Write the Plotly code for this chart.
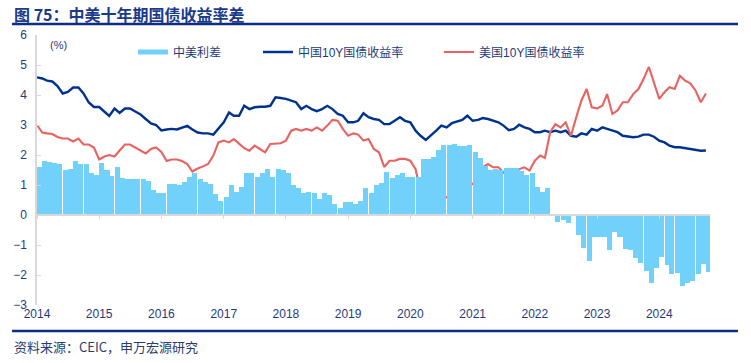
import pandas as pd
import plotly.graph_objects as go

months = pd.date_range("2014-01-01", "2024-10-01", freq="MS")

china_10y = [
    4.59, 4.55, 4.48, 4.45, 4.30, 4.05, 4.10, 4.25, 4.25, 4.05, 3.75, 3.60,
    3.60, 3.45, 3.30, 3.55, 3.40, 3.55, 3.55, 3.45, 3.35, 3.20, 3.05, 3.00,
    2.82, 2.85, 2.87, 2.85, 2.90, 2.97, 2.85, 2.75, 2.72, 2.72, 2.68, 2.90,
    3.09, 3.42, 3.31, 3.31, 3.64, 3.53, 3.59, 3.61, 3.61, 3.64, 3.92, 3.90,
    3.87, 3.81, 3.76, 3.53, 3.64, 3.53, 3.46, 3.53, 3.64, 3.53, 3.37, 3.31,
    3.09, 3.09, 3.14, 3.39, 3.26, 3.20, 3.17, 3.03, 3.03, 3.14, 3.26, 3.14,
    3.09, 2.81, 2.64, 2.50, 2.64, 2.81, 2.98, 2.92, 3.06, 3.12, 3.17, 3.31,
    3.14, 3.17, 3.23, 3.20, 3.14, 3.09, 2.98, 2.83, 2.87, 3.01, 2.92, 2.87,
    2.76, 2.76, 2.81, 2.76, 2.81, 2.76, 2.81, 2.64, 2.61, 2.72, 2.68, 2.87,
    2.81, 2.92, 2.87, 2.81, 2.76, 2.64, 2.61, 2.59, 2.61, 2.68, 2.68, 2.61,
    2.48, 2.42, 2.31, 2.26, 2.26, 2.23, 2.20, 2.17, 2.14, 2.15,
]

us_10y = [
    3.00, 2.75, 2.72, 2.70, 2.60, 2.55, 2.55, 2.45, 2.55, 2.35, 2.35, 2.25,
    1.85, 1.95, 2.00, 1.95, 2.15, 2.35, 2.35, 2.25, 2.15, 2.05, 2.20, 2.25,
    2.10, 1.80, 1.85, 1.85, 1.80, 1.70, 1.45, 1.55, 1.62, 1.70, 1.98, 2.42,
    2.48, 2.42, 2.53, 2.37, 2.23, 2.14, 2.31, 2.20, 2.09, 2.37, 2.37, 2.39,
    2.48, 2.81, 2.87, 2.81, 2.87, 2.81, 2.92, 2.81, 2.98, 3.17, 3.14, 2.87,
    2.64, 2.72, 2.68, 2.48, 2.53, 2.20, 2.09, 1.60, 1.81, 1.81, 1.87, 1.87,
    1.81, 1.53, 0.76, 0.64, 0.70, 0.64, 0.64, 0.59, 0.70, 0.81, 0.87, 0.98,
    1.03, 1.26, 1.59, 1.70, 1.59, 1.59, 1.42, 1.26, 1.31, 1.53, 1.59, 1.48,
    1.81, 1.98, 1.90, 2.76, 3.03, 2.92, 3.09, 2.64, 3.26, 3.81, 4.20, 3.59,
    3.55, 3.64, 4.03, 3.37, 3.48, 3.76, 3.76, 4.03, 4.20, 4.53, 4.94, 4.39,
    3.87, 4.09, 4.26, 4.20, 4.64, 4.48, 4.39, 4.15, 3.76, 4.05,
]

spread = [
    1.59, 1.80, 1.76, 1.75, 1.70, 1.50, 1.55, 1.80, 1.70, 1.70, 1.40, 1.35,
    1.75, 1.50, 1.30, 1.60, 1.25, 1.20, 1.20, 1.20, 1.20, 1.15, 0.85, 0.75,
    0.72, 1.05, 1.02, 1.00, 1.10, 1.27, 1.40, 1.20, 1.10, 1.02, 0.70, 0.48,
    0.61, 1.00, 0.78, 0.94, 1.41, 1.39, 1.28, 1.41, 1.52, 1.27, 1.55, 1.51,
    1.39, 1.00, 0.89, 0.72, 0.77, 0.72, 0.54, 0.72, 0.66, 0.36, 0.23, 0.44,
    0.45, 0.37, 0.46, 0.91, 0.73, 1.00, 1.08, 1.43, 1.22, 1.33, 1.39, 1.27,
    1.28, 1.28, 1.88, 1.86, 1.94, 2.17, 2.34, 2.33, 2.36, 2.31, 2.30, 2.33,
    2.11, 1.91, 1.64, 1.50, 1.55, 1.50, 1.56, 1.57, 1.56, 1.48, 1.33, 1.39,
    0.95, 0.78, 0.91, 0.00, -0.22, -0.16, -0.28, 0.00, -0.65, -1.09, -1.52, -0.72,
    -0.74, -0.72, -1.16, -0.56, -0.72, -1.12, -1.15, -1.44, -1.59, -1.85, -2.26, -1.78,
    -1.39, -1.67, -1.95, -1.94, -2.38, -2.25, -2.19, -1.98, -1.62, -1.90,
]

y_ticks = [-3, -2, -1, 0, 1, 2, 3, 4, 5, 6]

NAVY = "#1f3a7a"
BAR = "#72d1fa"
CN = "#00338d"
US = "#e8625f"
FONT = "Liberation Sans, Noto Sans CJK SC, sans-serif"
x_range = ["2014-01-01", "2024-10-25"]

fig = go.Figure()

fig.add_trace(go.Bar(
    x=months, y=spread, xaxis="x2", yaxis="y",
    marker=dict(color=BAR, line=dict(width=0)),
    offset=0, width=29.5 * 86400000,
    showlegend=False, name="中美利差",
))
# legend swatch for the spread
fig.add_trace(go.Scatter(
    x=[None], y=[None], mode="lines", name="中美利差",
    line=dict(color=BAR, width=5), legend="legend",
))
fig.add_trace(go.Scatter(
    x=months, y=china_10y, mode="lines", name="中国10Y国债收益率",
    line=dict(color=CN, width=2.4), legend="legend2",
))
fig.add_trace(go.Scatter(
    x=months, y=us_10y, mode="lines", name="美国10Y国债收益率",
    line=dict(color=US, width=2.1), legend="legend3",
))

leg_common = dict(orientation="h", yanchor="middle", y=0.937, xanchor="left",
                  font=dict(family=FONT, size=12, color=NAVY),
                  bgcolor="rgba(0,0,0,0)", itemwidth=30)

fig.update_layout(
    width=751, height=363,
    margin=dict(l=37, r=41, t=35, b=58),
    paper_bgcolor="white", plot_bgcolor="white",
    font=dict(family=FONT, size=12, color=NAVY),
    bargap=0,
    legend=dict(x=0.1426, **leg_common),
    legend2=dict(x=0.3284, **leg_common),
    legend3=dict(x=0.5974, **leg_common),
    xaxis=dict(
        type="date", range=x_range, tickformat="%Y", dtick="M12",
        tick0="2014-01-01", showline=False, ticks="", showgrid=False,
        zeroline=False, tickfont=dict(family=FONT, size=12, color=NAVY),
    ),
    xaxis2=dict(
        type="date", range=x_range, overlaying="x", anchor="free",
        position=1 / 3, side="bottom", dtick="M12", tick0="2014-01-01",
        showline=True, linecolor="#d9d9d9", linewidth=1.5,
        ticks="outside", ticklen=3, tickcolor="#d9d9d9",
        showticklabels=False, showgrid=False, zeroline=False,
    ),
    yaxis=dict(
        range=[-3, 6], tickvals=y_ticks, showgrid=False, zeroline=False,
        showline=True, linecolor="#d9d9d9", linewidth=1.5,
        ticks="inside", ticklen=4, tickcolor="#d9d9d9",
        ticklabelstandoff=6,
        tickfont=dict(family=FONT, size=12, color=NAVY),
    ),
    annotations=[
        dict(text="(%)", x=0.016, y=0.963, xref="paper", yref="paper",
             xanchor="left", yanchor="middle", showarrow=False,
             font=dict(family=FONT, size=11, color=NAVY)),
        dict(text="<b>图 75：中美十年期国债收益率差</b>", x=-0.0371,
             y=(305 - 14) / 270, xref="paper", yref="paper",
             xanchor="left", yanchor="middle", showarrow=False,
             font=dict(family="Noto Sans CJK SC", size=16, color="#1b3a8c")),
        dict(text="资料来源：CEIC，申万宏源研究", x=-0.0371,
             y=(305 - 347) / 270, xref="paper", yref="paper",
             xanchor="left", yanchor="middle", showarrow=False,
             font=dict(family="Noto Sans CJK SC", size=13, color="#2b3d6b")),
    ],
    shapes=[
        dict(type="line", xref="paper", yref="paper",
             x0=-0.0371, x1=1.0416, y0=(305 - 24) / 270, y1=(305 - 24) / 270,
             line=dict(color="#0c2d83", width=2.5)),
        dict(type="line", xref="paper", yref="paper",
             x0=-0.0371, x1=1.0416, y0=(305 - 331) / 270, y1=(305 - 331) / 270,
             line=dict(color="#0c2d83", width=2.5)),
    ],
)

fig.write_html(
    "out.html",
    config={"displayModeBar": False},
    post_script="document.body.style.margin='0';document.body.style.padding='0';",
)
